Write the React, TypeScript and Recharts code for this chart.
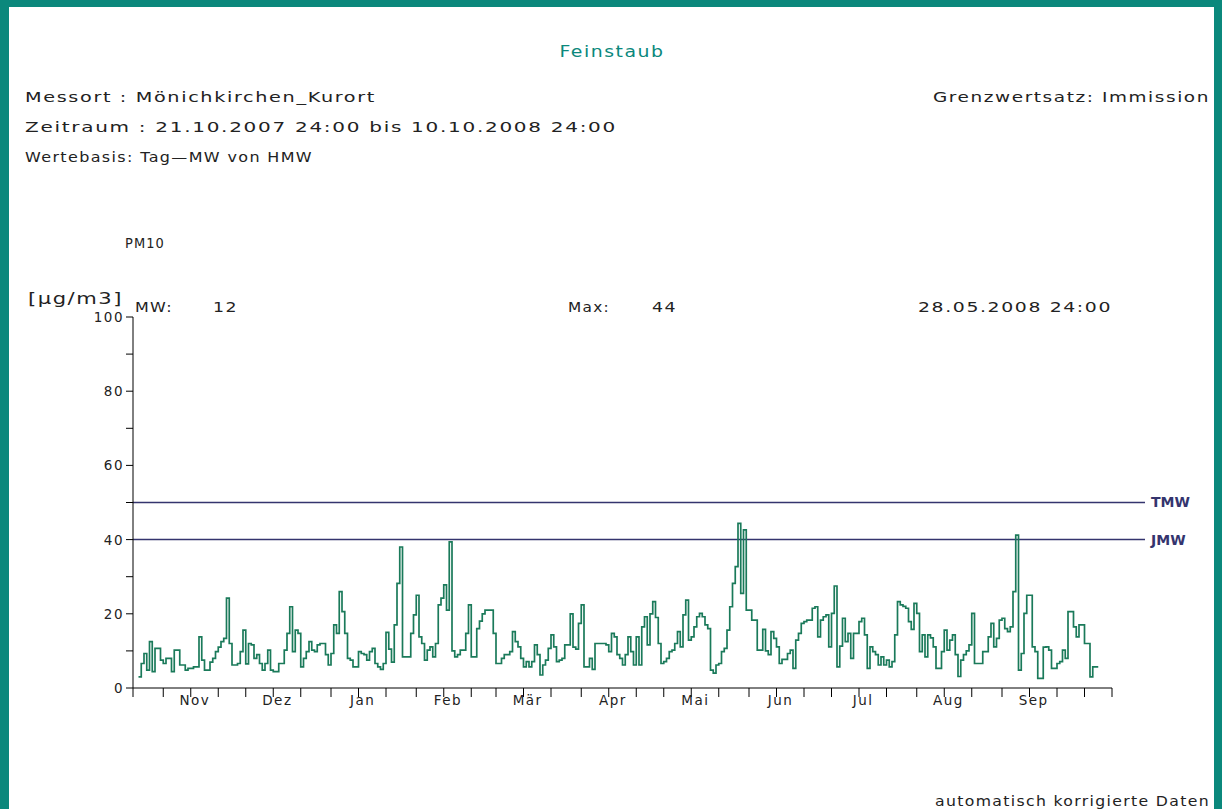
import React from 'react';
import { LineChart, Line, XAxis, YAxis, ReferenceLine } from 'recharts';

// ---------- data ----------
const START_UTC = Date.UTC(2007, 9, 21); // day 0 = 21.10.2007
const dayIndex = (y: number, m: number, d: number) =>
  Math.round((Date.UTC(y, m - 1, d) - START_UTC) / 86400000);

const DOMAIN_END = dayIndex(2008, 10, 11);
const FIRST_DAY = 2;

// PM10 daily means (µg/m3), one value per day starting at FIRST_DAY
const pm10Values: number[] = [
  3, 6.6, 9.3, 4.8, 12.5, 4.4, 10.7, 10.7, 7.5, 6.6,
  8, 8, 4.4, 10.2, 10.2, 6.2, 6.2, 4.8, 5.3, 5.3,
  5.7, 5.7, 13.8, 7.5, 4.8, 4.8, 7, 8, 9.8, 11,
  12.5, 13.4, 24.2, 12, 6.2, 6.2, 6.6, 9.8, 15.6, 6.5,
  12, 11.6, 8, 9, 6.6, 4.8, 6.6, 10.2, 4.8, 4.4,
  4.4, 6.6, 6.6, 10.2, 14.7, 21.9, 9.8, 15.6, 14.7, 5.7,
  8, 9.8, 12.5, 10.2, 9.8, 11.6, 12, 12, 9, 6.2,
  9.3, 17, 14.7, 26, 20.6, 14.7, 8, 7.5, 5.7, 5.7,
  9.8, 9.3, 9, 7.5, 9.8, 10.7, 6.6, 5.7, 5, 6.6,
  15, 10.5, 7, 17, 28.2, 38, 8.4, 8.4, 8.4, 14.7,
  19.7, 25, 13.8, 12, 7.5, 10.2, 11.1, 8.4, 12, 22.4,
  24.2, 27.8, 21, 39.4, 10, 8.4, 9, 10.2, 10.2, 14.7,
  22.4, 8.4, 8.4, 16, 18, 20, 21, 21, 21, 14.7,
  6.6, 6.6, 8, 9, 9, 9.8, 15.2, 12.5, 11.1, 8,
  5.7, 7.1, 5.7, 7.1, 11.6, 9, 3.5, 6.2, 7.5, 10.7,
  14.3, 11.1, 7.1, 7.5, 8, 11.6, 11.6, 20, 11, 10.5,
  17.4, 22.4, 5.7, 5.7, 8, 5, 12, 12, 12, 12,
  11.6, 9.8, 14.7, 13.8, 9, 8, 6.2, 9, 13.8, 9.8,
  6.2, 13.8, 6.2, 16.5, 19.2, 11.6, 20, 23.3, 19, 12,
  6.6, 7.1, 8, 9.8, 10.2, 12, 15.2, 11.1, 19.7, 23.7,
  12.9, 13.8, 16.5, 19.2, 20.1, 19.2, 17, 16, 4.8, 4,
  6.2, 6.6, 9.8, 10.7, 15.6, 21.9, 28.2, 32.7, 44.4, 25.5,
  42.6, 21, 21, 18.3, 18.3, 10.2, 10.2, 15.8, 10, 9,
  15.2, 13.4, 11.1, 6.6, 7.7, 7.7, 9.3, 10.2, 5.3, 12.9,
  14.7, 17.4, 17.9, 18.3, 18.3, 21.5, 21.9, 13.8, 18.3, 19.2,
  19.7, 11.1, 20.1, 27.5, 5.7, 11.3, 18.8, 12.5, 14.7, 8,
  14.7, 14.7, 17.9, 18.8, 14.3, 5.3, 11.1, 9.8, 9, 6.2,
  8.4, 6.2, 7.5, 5.7, 7.1, 14.3, 23.3, 22.4, 22, 21.5,
  17.9, 15.8, 22.8, 20.1, 9.8, 14.3, 8.4, 14.3, 13.5, 11.1,
  5.3, 5.3, 9.8, 15.6, 10.2, 12.9, 14.3, 9, 3.1, 7.5,
  9, 10, 11.6, 20.1, 6.6, 6.6, 6.6, 9.8, 9.8, 13.8,
  17.4, 11.1, 13.4, 18.3, 18.8, 16, 15.2, 16.5, 26, 41.2,
  4.8, 9.3, 20.1, 25, 25, 11.1, 9.8, 2.6, 2.6, 11,
  11.1, 10.2, 5.3, 5.3, 6.6, 7.1, 10.2, 8, 20.6, 20.6,
  16.5, 13.8, 17, 17, 12, 12, 3, 5.7, 5.7,
];

const monthNames = ['Nov', 'Dez', 'Jan', 'Feb', 'Mär', 'Apr', 'Mai', 'Jun', 'Jul', 'Aug', 'Sep'];
const monthYears: [number, number][] = [
  [2007, 11], [2007, 12], [2008, 1], [2008, 2], [2008, 3], [2008, 4],
  [2008, 5], [2008, 6], [2008, 7], [2008, 8], [2008, 9], [2008, 10],
];
const dekadDays = [1, 11, 21];
const yTicks = [0, 10, 20, 30, 40, 50, 60, 70, 80, 90, 100];
const yLabelEvery = 20;

const limitLines = [
  { name: 'TMW', value: 50 },
  { name: 'JMW', value: 40 },
];

// ---------- derived ----------
const chartData = pm10Values.map((v, i) => ({ day: FIRST_DAY + i, v }));
chartData.push({ day: FIRST_DAY + pm10Values.length, v: pm10Values[pm10Values.length - 1] });

const dekadTicks: number[] = [dayIndex(2007, 10, 21)];
monthYears.forEach(([y, m]) => {
  dekadDays.forEach((d) => {
    const idx = dayIndex(y, m, d);
    if (idx >= 0 && idx <= DOMAIN_END) dekadTicks.push(idx);
  });
});
const monthLabelTicks = monthNames.map((_, i) => {
  const [y, m] = monthYears[i];
  return dayIndex(y, m, 12) + 0.5;
});
const monthLabelMap = new Map<number, string>();
monthLabelTicks.forEach((t, i) => monthLabelMap.set(t, monthNames[i]));
const allXTicks = [...dekadTicks, ...monthLabelTicks].sort((a, b) => a - b);

// ---------- style ----------
const TEAL = '#0b887c';
const LINE_GREEN = '#1a7a5a';
const NAVY = '#34346e';
const TEXT = '#222';
const FONT = '"DejaVu Sans", Verdana, sans-serif';

const W = 1222;
const H = 809;
const LIMIT_LINE_END = 368;

const XTick = (props: any) => {
  const { x, y, payload } = props;
  const label = monthLabelMap.get(payload.value);
  if (label) {
    return (
      <text x={x} y={y + 12} textAnchor="middle" dominantBaseline="central"
        fontFamily={FONT} fontSize={13.5} letterSpacing={1.5} fill={TEXT}>
        {label}
      </text>
    );
  }
  return <line x1={x} y1={y} x2={x} y2={y + 9} stroke="#000" strokeWidth={1} />;
};

const YTick = (props: any) => {
  const { x, y, payload } = props;
  const v = payload.value;
  const s = String(v);
  return (
    <g>
      <line x1={x - 7} y1={y} x2={x} y2={y} stroke="#000" strokeWidth={1} />
      {v % yLabelEvery === 0 && (
        <text x={x - 9} y={y} textAnchor="end" dominantBaseline="central"
          fontFamily={FONT} fontSize={13.5} letterSpacing={1.5} fill={TEXT}>
          {s}
        </text>
      )}
    </g>
  );
};

type HeaderText = { text: string; x: number; y: number; anchor: 'start' | 'middle' | 'end'; len?: number; size?: number; color?: string };
const headerTexts: HeaderText[] = [
  { text: 'Feinstaub', x: 612, y: 52, anchor: 'middle', len: 105, color: TEAL, size: 15 },
  { text: 'Messort : Mönichkirchen_Kurort', x: 25, y: 97, anchor: 'start', len: 351 },
  { text: 'Grenzwertsatz: Immission', x: 1210, y: 97, anchor: 'end', len: 277 },
  { text: 'Zeitraum   : 21.10.2007 24:00 bis 10.10.2008 24:00', x: 25, y: 127, anchor: 'start', len: 592 },
  { text: 'Wertebasis: Tag—MW von HMW', x: 25, y: 157, anchor: 'start', len: 288 },
  { text: 'PM10', x: 125, y: 243, anchor: 'start', len: 40 },
  { text: '[µg/m3]', x: 28, y: 298, anchor: 'start', len: 95, size: 16.5 },
  { text: 'MW:', x: 135, y: 307, anchor: 'start', len: 38 },
  { text: '12', x: 213, y: 307, anchor: 'start', len: 25 },
  { text: 'Max:', x: 568, y: 307, anchor: 'start', len: 42 },
  { text: '44', x: 652, y: 307, anchor: 'start', len: 25 },
  { text: '28.05.2008 24:00', x: 1112, y: 307, anchor: 'end', len: 194 },
  { text: 'automatisch korrigierte Daten', x: 1210, y: 801, anchor: 'end', len: 275 },
];

export default function App() {
  return (
    <div style={{ position: 'absolute', left: 0, top: 0, width: W, height: H, background: '#fff', overflow: 'hidden' }}>
      <div style={{
        position: 'absolute', left: 0, top: 0, width: W, height: H + 20, boxSizing: 'border-box',
        borderLeft: `9px solid ${TEAL}`, borderTop: `7px solid ${TEAL}`, borderRight: `8px solid ${TEAL}`,
      }} />
      <div style={{ position: 'absolute', left: 0, top: 0 }}>
        <LineChart width={W} height={H} data={chartData}
          margin={{ top: 317, right: 110, bottom: 91, left: 93 }}>
          <XAxis dataKey="day" type="number" domain={[0, DOMAIN_END]} ticks={allXTicks}
            interval={0} tick={<XTick />} tickLine={false} tickSize={0} tickMargin={0}
            axisLine={{ stroke: '#000' }} allowDataOverflow height={30} />
          <XAxis xAxisId="top" orientation="top" type="number" domain={[0, DOMAIN_END]}
            tick={false} tickLine={false} height={0} axisLine={{ stroke: '#000' }} />
          <YAxis type="number" domain={[0, 100]} ticks={yTicks} interval={0}
            tick={<YTick />} tickLine={false} tickSize={0} tickMargin={0}
            axisLine={{ stroke: '#000' }} width={40} />
          <YAxis yAxisId="right" orientation="right" type="number" domain={[0, 100]}
            tick={false} tickLine={false} width={0} axisLine={{ stroke: '#000' }} />
          {limitLines.map((l) => (
            <ReferenceLine key={l.name} ifOverflow="visible"
              segment={[{ x: 0, y: l.value }, { x: LIMIT_LINE_END, y: l.value }]}
              stroke={NAVY} strokeWidth={1.5}
              label={{ value: l.name, position: 'right', offset: 6, fill: NAVY, fontSize: 14, fontWeight: 'bold', fontFamily: FONT }} />
          ))}
          <Line type="stepAfter" dataKey="v" stroke={LINE_GREEN} strokeWidth={1.7}
            dot={false} activeDot={false} isAnimationActive={false} />
        </LineChart>
      </div>
      <svg width={W} height={H} style={{ position: 'absolute', left: 0, top: 0, pointerEvents: 'none' }}>
        {headerTexts.map((t, i) => (
          <text key={i} x={t.x} y={t.y} textAnchor={t.anchor} dominantBaseline="central"
            fontFamily={FONT} fontSize={t.size ?? 14} fill={t.color ?? TEXT}
            letterSpacing={1.2} textLength={t.len} lengthAdjust="spacingAndGlyphs">
            {t.text}
          </text>
        ))}
      </svg>
    </div>
  );
}
